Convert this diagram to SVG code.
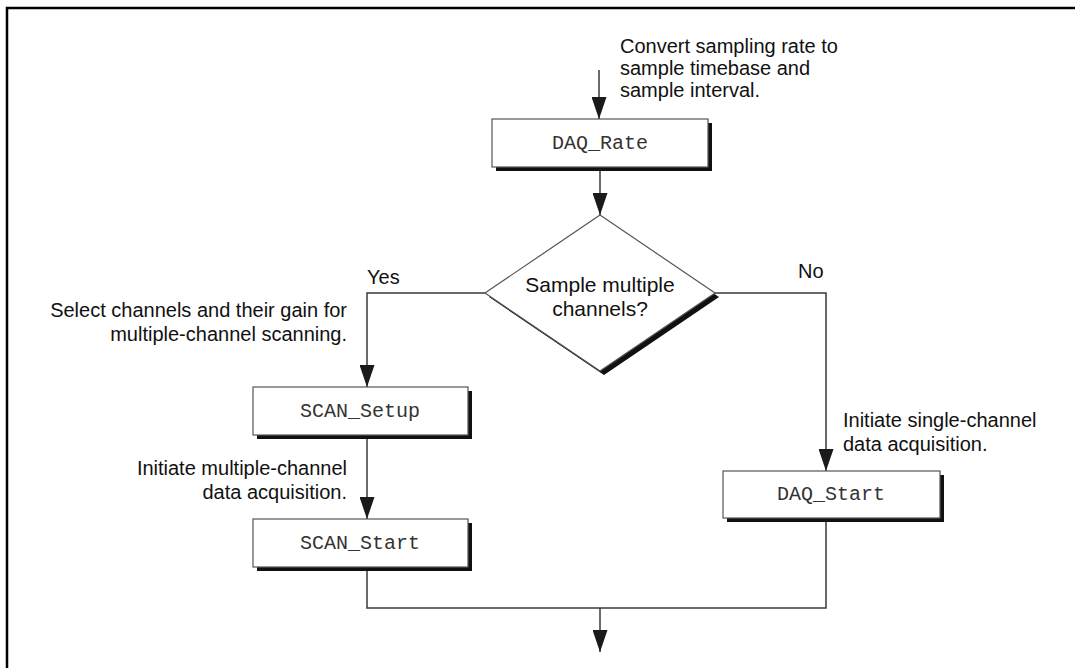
<svg xmlns="http://www.w3.org/2000/svg" width="1075" height="668" viewBox="0 0 1075 668">
  <defs>
    <marker id="arrow" markerUnits="userSpaceOnUse" viewBox="0 0 22 15" markerWidth="22" markerHeight="15" refX="22" refY="7.5" orient="auto">
      <path d="M0,0 L22,7.5 L0,15 Z" fill="#1a1a1a"/>
    </marker>
  </defs>
  <style>
    .frame { fill: none; stroke: #000; stroke-width: 2.5; }
    .conn { fill: none; stroke: #3a3a3a; stroke-width: 1.5; }
    .box { fill: #fff; stroke: #555; stroke-width: 1.2; }
    .shadow { fill: #111; stroke: none; }
    .lbl { font-family: "Liberation Sans", Arial, sans-serif; font-size: 20px; fill: #111; }
    .big { font-size: 21px; }
    .code { font-family: "Liberation Mono", "Courier New", monospace; font-size: 20px; fill: #333; text-anchor: middle; dominant-baseline: central; }
    .end { text-anchor: end; }
    .mid { text-anchor: middle; }
  </style>
  <rect width="1075" height="668" fill="#fff"/>
  <path class="frame" d="M7,668 V8 H1075"/>

  <g id="connectors">
    <path class="conn" d="M599,70 V119" marker-end="url(#arrow)"/>
    <path class="conn" d="M600,171 V215" marker-end="url(#arrow)"/>
    <path class="conn" d="M485,293 H367 V387" marker-end="url(#arrow)"/>
    <path class="conn" d="M715,293 H826 V471" marker-end="url(#arrow)"/>
    <path class="conn" d="M367,439 V519" marker-end="url(#arrow)"/>
    <path class="conn" d="M367,571 V608 H826 V522"/>
    <path class="conn" d="M600,608 V652" marker-end="url(#arrow)"/>
    <text class="lbl" x="367" y="284">Yes</text>
    <text class="lbl" x="798" y="278">No</text>
  </g>

  <g id="note-rate">
    <text class="lbl" x="620" y="53">Convert sampling rate to</text>
    <text class="lbl" x="620" y="75">sample timebase and</text>
    <text class="lbl" x="620" y="97">sample interval.</text>
  </g>

  <g id="daq-rate">
    <rect class="shadow" x="496" y="123" width="216" height="48"/>
    <rect class="box" x="492" y="119" width="216" height="48"/>
    <text class="code" x="600" y="143">DAQ_Rate</text>
  </g>

  <g id="decision">
    <polygon class="shadow" points="604,219 719,297 604,375 489,297"/>
    <polygon class="box" points="600,215 715,293 600,371 485,293"/>
    <text class="lbl big mid" x="600" y="292">Sample multiple</text>
    <text class="lbl big mid" x="600" y="316">channels?</text>
  </g>

  <g id="note-scan-setup">
    <text class="lbl end" x="347" y="317">Select channels and their gain for</text>
    <text class="lbl end" x="347" y="341">multiple-channel scanning.</text>
  </g>

  <g id="scan-setup">
    <rect class="shadow" x="257" y="391" width="215" height="48"/>
    <rect class="box" x="253" y="387" width="215" height="48"/>
    <text class="code" x="360" y="411">SCAN_Setup</text>
  </g>

  <g id="note-scan-start">
    <text class="lbl end" x="347" y="475">Initiate multiple-channel</text>
    <text class="lbl end" x="347" y="499">data acquisition.</text>
  </g>

  <g id="scan-start">
    <rect class="shadow" x="257" y="523" width="215" height="48"/>
    <rect class="box" x="253" y="519" width="215" height="48"/>
    <text class="code" x="360" y="543">SCAN_Start</text>
  </g>

  <g id="note-daq-start">
    <text class="lbl" x="843" y="427">Initiate single-channel</text>
    <text class="lbl" x="843" y="451">data acquisition.</text>
  </g>

  <g id="daq-start">
    <rect class="shadow" x="727" y="475" width="217" height="47"/>
    <rect class="box" x="723" y="471" width="217" height="47"/>
    <text class="code" x="831" y="494.5">DAQ_Start</text>
  </g>
</svg>
